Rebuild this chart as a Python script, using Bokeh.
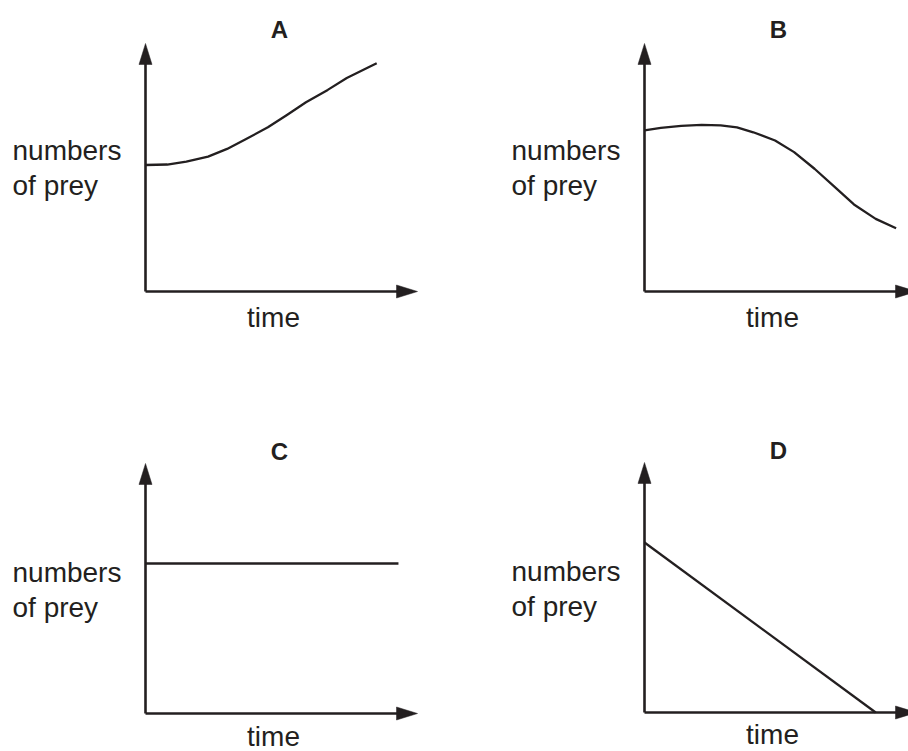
from bokeh.plotting import figure
from bokeh.models import Range1d, Label
from bokeh.layouts import column, row
from bokeh.embed import file_html
from bokeh.resources import INLINE

# ---------------- data (time and prey in arbitrary units, axis tip = 100) ----------------
panel_titles = ["A", "B", "C", "D"]
x_label = "time"
y_label_lines = ["numbers", "of prey"]
axis_max = 100

A_time = [0, 8, 15, 23, 30, 37, 45, 52, 59, 67, 74, 82, 85]
A_prey = [51, 51.2, 52.4, 54.4, 57.5, 61.5, 66.2, 71.2, 76.3, 81.3, 86.1, 90.4, 92]

B_time = [0, 6, 13.5, 21, 28, 34, 40, 48, 55, 62.5, 70, 77, 85, 92.5]
B_prey = [65, 66, 66.8, 67.2, 67, 66.2, 64.2, 60.9, 56.2, 49.5, 42.1, 35.1, 29.3, 25.5]

C_time = [0, 93]
C_prey = [60, 60]

D_time = [0, 85]
D_prey = [68, 0]

series = [(A_time, A_prey), (B_time, B_prey), (C_time, C_prey), (D_time, D_prey)]

# ---------------- style / layout ----------------
INK = "#231F20"
FONT = "Liberation Sans"
AXIS_W = 2.6
CURVE_W = 2.3
HEAD_LEN = 21
HEAD_HALF = 6.5
LABEL_SIZE = "28px"
TITLE_SIZE = "24px"

TOP_H, BOT_H = 420, 331
LEFT_W, RIGHT_W = 454, 454
PPX = 2.72          # pixels per time unit
PPY_TOP = 2.48      # pixels per prey unit (top row)
PPY_BOT = 2.50      # pixels per prey unit (bottom row)
# axis-origin position inside each figure (px from left, px from top)
origins = [(145, 291), (190, 291), (145, 293), (190, 292)]
sizes = [(LEFT_W, TOP_H), (RIGHT_W, TOP_H), (LEFT_W, BOT_H), (RIGHT_W, BOT_H)]
ppys = [PPY_TOP, PPY_TOP, PPY_BOT, PPY_BOT]
# x-label offset below the axis (px); bottom row kept just inside the page edge
xlabel_dys = [-26, -26, -23, -22]

# text anchor offsets from the axis origin, in px (right / up)
TITLE_POS = (134, 262)
XLABEL_X = 128
YLABEL_X = -133
YLABEL_YS = [141, 106]


def make_panel(title, xs, ys, size, origin, ppy, xlabel_dy):
    W, H = size
    ox, oy = origin
    p = figure(width=W, height=H, output_backend="svg", toolbar_location=None,
               min_border=0, min_border_left=0, min_border_right=0,
               min_border_top=0, min_border_bottom=0,
               x_range=Range1d(-ox / PPX, (W - ox) / PPX),
               y_range=Range1d(-(H - oy) / ppy, oy / ppy))
    p.axis.visible = False
    p.grid.visible = False
    p.outline_line_color = None
    p.background_fill_color = "white"
    p.border_fill_color = "white"

    def ux(px):
        return px / PPX

    def uy(px):
        return px / ppy

    # axes lines
    p.line([0, axis_max - ux(HEAD_LEN) + ux(1)], [0, 0], line_color=INK, line_width=AXIS_W)
    p.line([0, 0], [0, axis_max - uy(HEAD_LEN) + uy(1)], line_color=INK, line_width=AXIS_W)
    # arrow heads
    p.patch([axis_max, axis_max - ux(HEAD_LEN), axis_max - ux(HEAD_LEN)],
            [0, uy(HEAD_HALF), -uy(HEAD_HALF)], fill_color=INK, line_color=INK, line_width=0.5)
    p.patch([0, ux(HEAD_HALF), -ux(HEAD_HALF)],
            [axis_max, axis_max - uy(HEAD_LEN), axis_max - uy(HEAD_LEN)],
            fill_color=INK, line_color=INK, line_width=0.5)
    # data curve
    p.line(xs, ys, line_color=INK, line_width=CURVE_W, line_join="round")

    # texts
    p.add_layout(Label(x=ux(TITLE_POS[0]), y=uy(TITLE_POS[1]), text=title, text_font=FONT,
                       text_font_size=TITLE_SIZE, text_font_style="bold", text_color=INK,
                       text_align="center", text_baseline="alphabetic"))
    p.add_layout(Label(x=ux(XLABEL_X), y=uy(xlabel_dy), text=x_label, text_font=FONT,
                       text_font_size=LABEL_SIZE, text_color=INK,
                       text_align="center", text_baseline="alphabetic"))
    for line_txt, dy in zip(y_label_lines, YLABEL_YS):
        p.add_layout(Label(x=ux(YLABEL_X), y=uy(dy), text=line_txt, text_font=FONT,
                           text_font_size=LABEL_SIZE, text_color=INK,
                           text_align="left", text_baseline="alphabetic"))
    return p


panels = [make_panel(t, xs, ys, s, o, py, dy)
          for t, (xs, ys), s, o, py, dy in zip(panel_titles, series, sizes, origins, ppys, xlabel_dys)]

layout = column(row(panels[0], panels[1], spacing=0),
                row(panels[2], panels[3], spacing=0), spacing=0)

open("out.html", "w").write(file_html(layout, INLINE))
